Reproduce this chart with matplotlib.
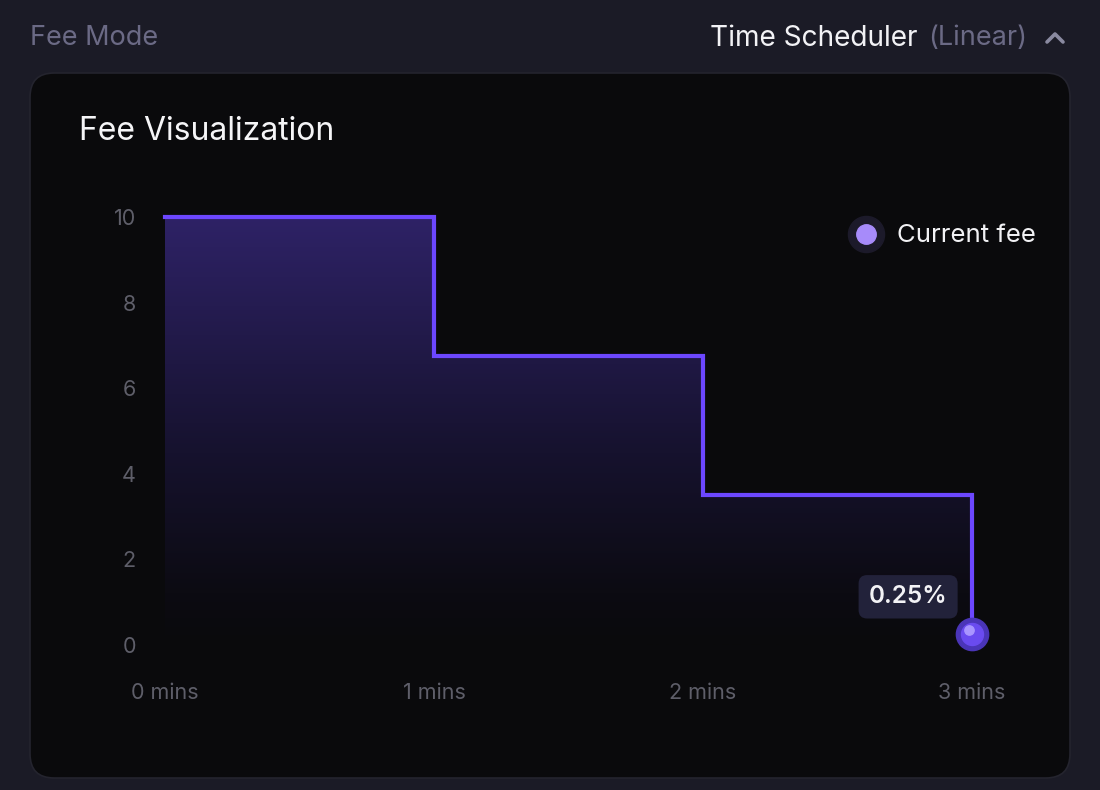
import matplotlib
matplotlib.use("Agg")
import matplotlib.pyplot as plt
import numpy as np
from matplotlib.patches import FancyBboxPatch
from matplotlib.colors import LinearSegmentedColormap

plt.rcParams["font.family"] = ["Inter", "DejaVu Sans"]

# data
minutes = [0, 1, 2, 3]
fee = [10.0, 6.75, 3.5, 0.25]
current_minute = 3
current_fee = 0.25
y_ticks = [0, 2, 4, 6, 8, 10]
x_labels = ["0 mins", "1 mins", "2 mins", "3 mins"]

BG = "#1b1b26"
CARD = "#0a0a0c"
LINE = "#6c47ff"
MUTED = "#5e5e69"

W, H = 1100, 790
fig = plt.figure(figsize=(W / 100, H / 100), dpi=100, facecolor=BG)


def fx(px):
    return px / W


def fy(py):
    return 1 - py / H


# card
card = FancyBboxPatch((fx(30), fy(778)), fx(1040), fy(73) - fy(778),
                      boxstyle="round,pad=0,rounding_size=0.022",
                      transform=fig.transFigure, facecolor=CARD,
                      edgecolor="#24242e", linewidth=1.2, mutation_aspect=W / H,
                      zorder=-5)
fig.patches.append(card)

# header
fig.text(fx(30), fy(38), "Fee Mode", color="#6b6a85", fontsize=19.5, va="center", ha="left")
fig.text(fx(710), fy(38), "Time Scheduler", color="#f2f2f5", fontsize=20.2, va="center", ha="left")
fig.text(fx(928), fy(38), "(Linear)", color="#6b6a85", fontsize=19.5, va="center", ha="left")
fig.add_artist(plt.Line2D([fx(1047), fx(1055), fx(1063)], [fy(42), fy(34), fy(42)],
                          color="#8a8aa0", linewidth=2.6, transform=fig.transFigure,
                          solid_capstyle="round", solid_joinstyle="round"))
fig.text(fx(79), fy(131), "Fee Visualization", color="#f5f5f7", fontsize=23, va="center", ha="left")

# axes: data x 0..3 -> px 165..972, y 0..10 -> px 645..217
ax = fig.add_axes([fx(165), fy(645), fx(972 - 165), fy(217) - fy(645)])
ax.set_facecolor("none")
ax.set_xlim(0, 3)
ax.set_ylim(0, 10)
for s in ax.spines.values():
    s.set_visible(False)
ax.tick_params(length=0, colors=MUTED, labelsize=15.5)
ax.set_yticks(y_ticks)
ax.set_xticks(minutes)
ax.set_xticklabels(x_labels)
ax.tick_params(axis="y", pad=21)
ax.tick_params(axis="x", pad=27.5)

# step points
xs = [minutes[0]]
ys = [fee[0]]
for i in range(1, len(minutes)):
    xs += [minutes[i], minutes[i]]
    ys += [fee[i - 1], fee[i]]

# gradient fill
poly = ax.fill_between(xs, ys, 0, color="none", linewidth=0)
cmap = LinearSegmentedColormap.from_list(
    "g", [(0, "#0a0a0c"), (0.12, "#0c0b12"), (0.45, "#16122e"), (1.0, "#2e2266")])
grad = np.linspace(0, 1, 256).reshape(-1, 1)
img = ax.imshow(grad, extent=[0, 3, 0, 10], origin="lower", aspect="auto",
                cmap=cmap, zorder=1)
img.set_clip_path(poly.get_paths()[0], transform=ax.transData)

ax.plot(xs, ys, color=LINE, linewidth=3, zorder=3, solid_joinstyle="miter", clip_on=False)

# current point
ax.scatter([current_minute], [current_fee], s=540, color="#4a35b8", zorder=4, clip_on=False)
ax.scatter([current_minute], [current_fee], s=250, color="#6a4bf0", zorder=5, clip_on=False)
ax.scatter([current_minute - 0.01], [current_fee + 0.1], s=45, color="#a996ff", zorder=6, clip_on=False)

ax.annotate(f"{current_fee:.2f}%", xy=(current_minute, current_fee), xytext=(-46, 27),
            textcoords="offset points", ha="center", va="center", color="#f2f2f5",
            fontsize=17.5, fontweight="semibold",
            bbox=dict(boxstyle="round,pad=0.42,rounding_size=0.35", fc="#22223a", ec="none"),
            zorder=7)

# legend
fig.add_artist(plt.Line2D([fx(866)], [fy(234)], marker="o", markersize=26, linestyle="none",
                          color="#1c1a2a", transform=fig.transFigure))
fig.add_artist(plt.Line2D([fx(866)], [fy(234)], marker="o", markersize=14, linestyle="none",
                          color="#a78bfa", transform=fig.transFigure))
fig.text(fx(897), fy(235), "Current fee", color="#f2f2f5", fontsize=18.5, va="center", ha="left")

fig.savefig("out.png", dpi=100, facecolor=BG)
